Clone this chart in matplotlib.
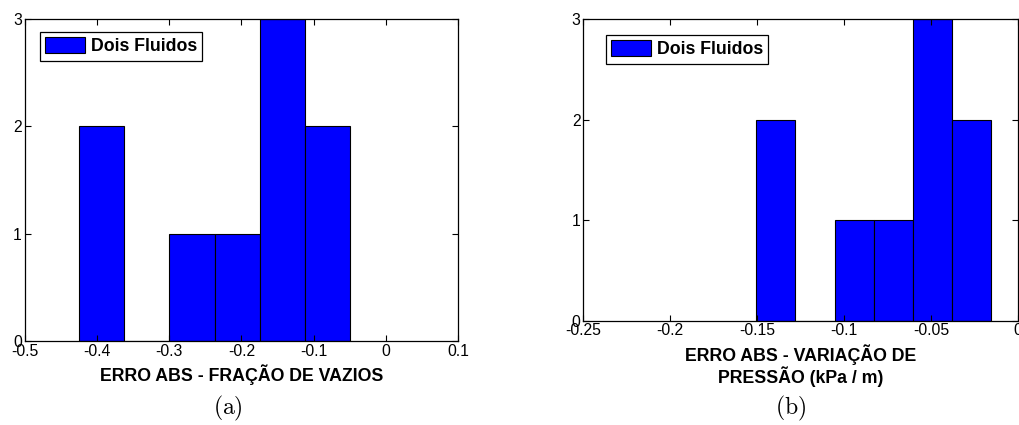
import matplotlib
matplotlib.use('Agg')

import matplotlib.pyplot as plt
import numpy as np
from matplotlib.ticker import FuncFormatter

plt.rcParams['font.family'] = ['Liberation Sans', 'DejaVu Sans']
plt.rcParams['axes.unicode_minus'] = False
plt.rcParams['mathtext.fontset'] = 'cm'

# ========== data ==========
# (a) fração de vazios: bin edges and counts
edges_a = [-0.4244, -0.3620, -0.2996, -0.2372, -0.1748, -0.1124, -0.0500]
counts_a = [2, 0, 1, 1, 3, 2]
xticks_a = [-0.5, -0.4, -0.3, -0.2, -0.1, 0.0, 0.1]

# (b) variação de pressão: bin edges and counts
edges_b = [-0.1506, -0.1281, -0.1056, -0.0831, -0.0606, -0.0381, -0.0156]
counts_b = [2, 0, 1, 1, 3, 2]
xticks_b = [-0.25, -0.2, -0.15, -0.1, -0.05, 0.0]

yticks = [0, 1, 2, 3]
legend_label = 'Dois Fluidos'
xlabel_a = 'ERRO ABS - FRAÇÃO DE VAZIOS'
xlabel_b = 'ERRO ABS - VARIAÇÃO DE\nPRESSÃO (kPa / m)'


def draw_hist(ax, edges, counts, xticks, xlabel, leg_anchor):
    edges = np.array(edges)
    ax.bar(edges[:-1], counts, width=np.diff(edges), align='edge',
           color='#0000ff', edgecolor='black', linewidth=0.8, label=legend_label)
    ax.set_xlim(xticks[0], xticks[-1])
    ax.set_ylim(0, 3)
    ax.set_xticks(xticks)
    ax.set_yticks(yticks)
    ax.xaxis.set_major_formatter(FuncFormatter(lambda v, p: f'{v:g}'))
    ax.tick_params(direction='in', top=True, right=True, length=4, width=0.8,
                   labelsize=11.3, pad=2)
    for s in ax.spines.values():
        s.set_linewidth(0.9)
    ax.set_xlabel(xlabel, fontsize=12.8, fontweight='bold', labelpad=4,
                  linespacing=1.1)
    ax.legend(loc='upper left', bbox_to_anchor=leg_anchor, borderaxespad=0,
              fancybox=False, edgecolor='black', framealpha=1,
              prop={'weight': 'bold', 'size': 12.8},
              handlelength=2.25, handleheight=1.0, handletextpad=0.3,
              borderpad=0.3)
    ax.get_legend().get_frame().set_linewidth(0.9)


fig = plt.figure(figsize=(10.19, 4.25), dpi=100)
ax1 = fig.add_axes([0.0242, 0.1976, 0.4255, 0.7576])
ax2 = fig.add_axes([0.5724, 0.2454, 0.4269, 0.7099])

draw_hist(ax1, edges_a, counts_a, xticks_a, xlabel_a, (0.0353, 0.9596))
draw_hist(ax2, edges_b, counts_b, xticks_b, xlabel_b, (0.0522, 0.947))

fig.text(228 / 1019, 1 - 408 / 425, r'$\mathrm{(a)}$', fontsize=17,
         ha='center', va='center')
fig.text(791 / 1019, 1 - 408 / 425, r'$\mathrm{(b)}$', fontsize=17,
         ha='center', va='center')

plt.savefig('out.png', dpi=100)
plt.close()
